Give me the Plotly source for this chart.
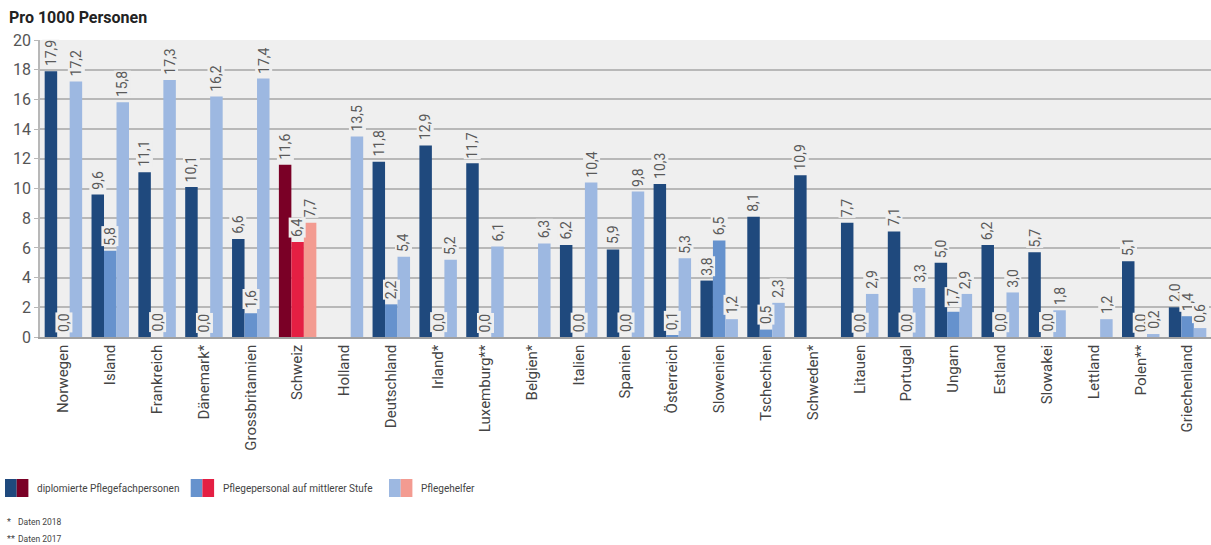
import plotly.graph_objects as go

categories = ["Norwegen", "Island", "Frankreich", "Dänemark*", "Grossbritannien", "Schweiz",
              "Holland", "Deutschland", "Irland*", "Luxemburg**", "Belgien*", "Italien",
              "Spanien", "Österreich", "Slowenien", "Tschechien", "Schweden*", "Litauen",
              "Portugal", "Ungarn", "Estland", "Slowakei", "Lettland", "Polen**", "Griechenland"]
diplomiert = [17.9, 9.6, 11.1, 10.1, 6.6, 11.6, None, 11.8, 12.9, 11.7, None, 6.2,
              5.9, 10.3, 3.8, 8.1, 10.9, 7.7, 7.1, 5.0, 6.2, 5.7, None, 5.1, 2.0]
mittlere = [0.0, 5.8, 0.0, 0.0, 1.6, 6.4, None, 2.2, 0.0, 0.0, None, 0.0,
            0.0, 0.1, 6.5, 0.5, None, 0.0, 0.0, 1.7, 0.0, 0.0, None, 0.0, 1.4]
helfer = [17.2, 15.8, 17.3, 16.2, 17.4, 7.7, 13.5, 5.4, 5.2, 6.1, 6.3, 10.4,
          9.8, 5.3, 1.2, 2.3, None, 2.9, 3.3, 2.9, 3.0, 1.8, 1.2, 0.2, 0.6]
series_names = ["diplomierte Pflegefachpersonen", "Pflegepersonal auf mittlerer Stufe", "Pflegehelfer"]
y_ticks = [0, 2, 4, 6, 8, 10, 12, 14, 16, 18, 20]
footnotes = [("*", "Daten 2018"), ("**", "Daten 2017")]
title = "Pro 1000 Personen"

blue_cols = ["#1f497d", "#6692cd", "#9db8e1"]
red_cols = ["#7a0026", "#e41f43", "#f39b91"]
highlight = "Schweiz"
plot_bg = "#efefef"

W, H = 1211, 545
L, R, T, B = 40, 0, 40, 208
pw = W - L - R
ph = H - T - B
bargap = 0.2
group_px = pw / len(categories)
bar_px = group_px * (1 - bargap) / 3


def px_x(px):
    return (px - L) / pw


def px_y(py):
    return (H - B - py) / ph


def fmt(v):
    return f"{v:.1f}".replace(".", ",")


fig = go.Figure()
all_series = [diplomiert, mittlere, helfer]
for i, (name, vals) in enumerate(zip(series_names, all_series)):
    colors = [red_cols[i] if c == highlight else blue_cols[i] for c in categories]
    fig.add_trace(go.Bar(x=categories, y=vals, name=name, marker=dict(color=colors, line=dict(width=0)),
                         showlegend=False, hoverinfo="x+y"))

annotations = []
for i, vals in enumerate(all_series):
    for c, v in zip(categories, vals):
        if v is None:
            continue
        annotations.append(dict(x=c, y=v, xref="x", yref="y", text=fmt(v), showarrow=False,
                                textangle=-90, xanchor="center", yanchor="bottom",
                                xshift=(i - 1) * bar_px, yshift=4,
                                bgcolor=plot_bg, borderpad=0,
                                font=dict(family="Roboto", size=14, color="#5a5a5a")))

# title
annotations.append(dict(x=px_x(7), y=px_y(18), xref="paper", yref="paper", text="<b>" + title + "</b>",
                        showarrow=False, xanchor="left", yanchor="middle",
                        font=dict(family="Roboto", size=16, color="#222222")))

# legend
shapes = []
legend_pos = [(5, 35), (190.7, 220.7), (389, 419.3)]
for i, (sx, tx) in enumerate(legend_pos):
    shapes.append(dict(type="rect", xref="paper", yref="paper", x0=px_x(sx), x1=px_x(sx + 11.7),
                       y0=px_y(497), y1=px_y(479), fillcolor=blue_cols[i], line=dict(width=0)))
    shapes.append(dict(type="rect", xref="paper", yref="paper", x0=px_x(sx + 11.7), x1=px_x(sx + 23.4),
                       y0=px_y(497), y1=px_y(479), fillcolor=red_cols[i], line=dict(width=0)))
    annotations.append(dict(x=px_x(tx), y=px_y(489), xref="paper", yref="paper", text=series_names[i],
                            showarrow=False, xanchor="left", yanchor="middle",
                            font=dict(family="Roboto", size=10, color="#444444")))

for j, (mark, txt) in enumerate(footnotes):
    yy = px_y(522 + j * 16.5)
    annotations.append(dict(x=px_x(5), y=yy, xref="paper", yref="paper", text=mark, showarrow=False,
                            xanchor="left", yanchor="middle", font=dict(family="Roboto", size=9, color="#444444")))
    annotations.append(dict(x=px_x(16), y=yy, xref="paper", yref="paper", text=txt, showarrow=False,
                            xanchor="left", yanchor="middle", font=dict(family="Roboto", size=8.5, color="#444444")))

fig.update_layout(
    width=W, height=H,
    margin=dict(l=L, r=R, t=T, b=B, pad=0),
    barmode="group", bargap=bargap, bargroupgap=0,
    plot_bgcolor=plot_bg, paper_bgcolor="white",
    annotations=annotations, shapes=shapes,
    font=dict(family="Roboto", color="#444444"),
)
fig.update_xaxes(type="category", tickangle=-90, tickfont=dict(family="Roboto", size=15, color="#444444"),
                 showgrid=False, showline=True, linecolor="#a0a0a0", linewidth=1.5, ticks="",
                 automargin=False)
fig.update_yaxes(range=[0, 20], tickvals=y_ticks, ticktext=[str(t) for t in y_ticks],
                 tickfont=dict(family="Roboto", size=16, color="#555555"),
                 showgrid=True, gridcolor="#b8b8b8", gridwidth=1.5, ticks="outside", ticklen=4,
                 tickcolor="#b8b8b8", showline=True, linecolor="#b8b8b8", linewidth=1.5,
                 zeroline=False, automargin=False)

fig.write_html("out.html", config={"displayModeBar": False},
               post_script="document.body.style.margin='0';document.body.style.padding='0';")
